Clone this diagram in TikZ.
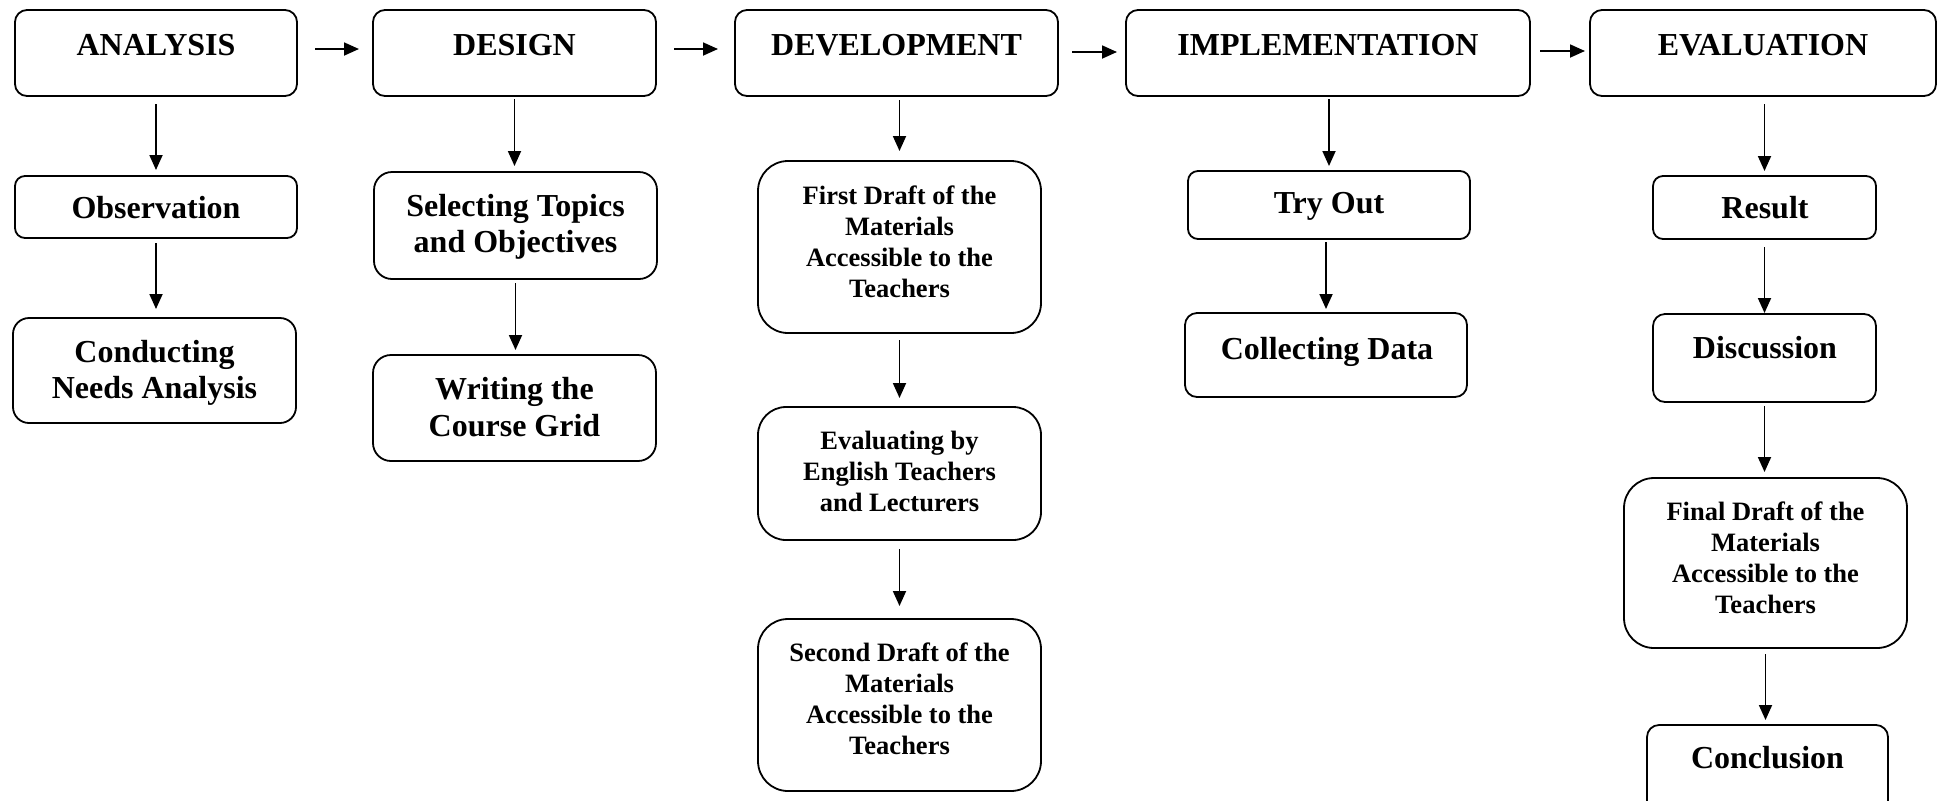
\documentclass[tikz,border=0pt]{standalone}
\usepackage{fontspec}
\setmainfont{Liberation Serif}
\usetikzlibrary{arrows.meta}

% box from corners (x1,x2,y1,y2 in px units), corner radius given last
\newcommand\stagebox[6]{%
  \node[stage=#6, minimum width={(#3-#2)*0.5pt}, minimum height={(#5-#4)*0.5pt}]
    (#1) at ({(#2+#3)/2},{(#4+#5)/2}) {};}

\begin{document}
\begin{tikzpicture}[x=0.5pt, y=-0.5pt,
  stage/.style={draw, line width=0.9pt, rectangle, rounded corners=#1, inner sep=0pt, outer sep=0pt},
  stage/.default=6pt,
  bigtxt/.style={font=\fontsize{16}{18.25}\selectfont\bfseries, align=center, inner sep=0pt},
  smalltxt/.style={font=\fontsize{13.25}{15.5}\selectfont\bfseries, align=center, inner sep=0pt},
  flow/.style={draw, line width=0.9pt, -{Triangle[length=7.5pt,width=6.5pt]}}]

\useasboundingbox (0,0) rectangle (1939,800);
\clip (0,0) rectangle (1939,800);

% phase boxes
\stagebox{A}{15}{297}{10}{96}{6pt}
\stagebox{D}{373}{656}{10}{96}{6pt}
\stagebox{Dev}{735}{1058}{10}{96}{6pt}
\stagebox{Impl}{1126}{1530}{10}{96}{6pt}
\stagebox{Eval}{1590}{1936}{10}{96}{6pt}

\node[bigtxt, anchor=base] (tA) at (156,55) {ANALYSIS};
\node[bigtxt, anchor=base] (tD) at (514.5,55) {DESIGN};
\node[bigtxt, anchor=base] (tDev) at (896.5,55) {DEVELOPMENT};
\node[bigtxt, anchor=base] (tImpl) at (1328,55) {IMPLEMENTATION};
\node[bigtxt, anchor=base] (tEval) at (1763,55) {EVALUATION};

% analysis steps
\stagebox{Obs}{15}{297}{176}{238}{5pt}
\stagebox{Cond}{13}{296}{318}{423}{8pt}
\node[bigtxt, anchor=base] (tObs) at (156,218) {Observation};
\node[bigtxt] (tCond) at (154.5,373) {Conducting\\Needs Analysis};

% design steps
\stagebox{Sel}{374}{657}{172}{279}{9pt}
\stagebox{Wri}{373}{656}{355}{461}{9pt}
\node[bigtxt] (tSel) at (515.5,227) {Selecting Topics\\and Objectives};
\node[bigtxt] (tWri) at (514.5,407) {Writing the\\Course Grid};

% development steps
\stagebox{FDa}{758}{1041}{161}{333}{15pt}
\stagebox{EvT}{758}{1041}{407}{540}{14pt}
\stagebox{FDb}{758}{1041}{619}{791}{15pt}
\node[smalltxt] (tFDa) at (899.5,241.5) {First Draft of the\\Materials\\Accessible to the\\Teachers};
\node[smalltxt] (tEvT) at (899.5,471.5) {Evaluating by\\English Teachers\\and Lecturers};
\node[smalltxt] (tFDb) at (899.5,698.5) {Second Draft of the\\Materials\\Accessible to the\\Teachers};

% implementation steps
\stagebox{Try}{1188}{1470}{171}{239}{5pt}
\stagebox{Col}{1185}{1467}{313}{397}{6pt}
\node[bigtxt, anchor=base] (tTry) at (1329,213) {Try Out};
\node[bigtxt, anchor=base] (tCol) at (1327,359) {Collecting Data};

% evaluation steps
\stagebox{Res}{1653}{1876}{176}{239}{5pt}
\stagebox{Dis}{1653}{1876}{314}{402}{6pt}
\stagebox{Fin}{1624}{1907}{478}{648}{15pt}
\stagebox{Con}{1647}{1888}{725}{830}{6pt}
\node[bigtxt, anchor=base] (tRes) at (1765,218) {Result};
\node[bigtxt, anchor=base] (tDis) at (1765,358) {Discussion};
\node[smalltxt] (tFin) at (1765.5,557.5) {Final Draft of the\\Materials\\Accessible to the\\Teachers};
\node[bigtxt, anchor=base] (tCon) at (1767.5,768) {Conclusion};

% phase sequence
\draw[flow, shorten <=9pt, shorten >=7pt] ([yshift=2pt]A.east) -- ([yshift=2pt]D.west);
\draw[flow, shorten <=9pt, shorten >=8.5pt] ([yshift=2pt]D.east) -- ([yshift=2pt]Dev.west);
\draw[flow, shorten <=7pt, shorten >=4.5pt] ([yshift=0.5pt]Dev.east) -- ([yshift=0.5pt]Impl.west);
\draw[flow, shorten <=5pt, shorten >=2.5pt] ([yshift=1pt]Impl.east) -- ([yshift=1pt]Eval.west);

% step sequences
\draw[flow, shorten <=4pt, shorten >=3pt] (A.south -| Obs.north) -- (Obs.north);
\draw[flow, shorten <=2.5pt, shorten >=4.5pt] (Obs.south) -- (Obs.south |- Cond.north);
\draw[flow, shorten <=1.5pt, shorten >=3pt] (D.south) -- (D.south |- Sel.north);
\draw[flow, shorten <=2pt, shorten >=2.5pt] (Sel.south) -- (Sel.south |- Wri.north);
\draw[flow, shorten <=2pt, shorten >=5pt] (Dev.south -| FDa.north) -- (FDa.north);
\draw[flow, shorten <=3.5pt, shorten >=4.5pt] (FDa.south) -- (EvT.north);
\draw[flow, shorten <=4.5pt, shorten >=6.5pt] (EvT.south) -- (FDb.north);
\draw[flow, shorten <=1.5pt, shorten >=2.5pt] (Impl.south -| Try.north) -- (Try.north);
\draw[flow, shorten <=1.5pt, shorten >=2pt] (Try.south -| Col.north) -- (Col.north);
\draw[flow, shorten <=4pt, shorten >=2.5pt] (Eval.south -| Res.north) -- (Res.north);
\draw[flow, shorten <=4pt, shorten >=0.5pt] (Res.south) -- (Dis.north);
\draw[flow, shorten <=2pt, shorten >=3pt] (Dis.south) -- (Dis.south |- Fin.north);
\draw[flow, shorten <=3pt, shorten >=2.5pt] (Fin.south) -- (Fin.south |- Con.north);
\end{tikzpicture}
\end{document}
